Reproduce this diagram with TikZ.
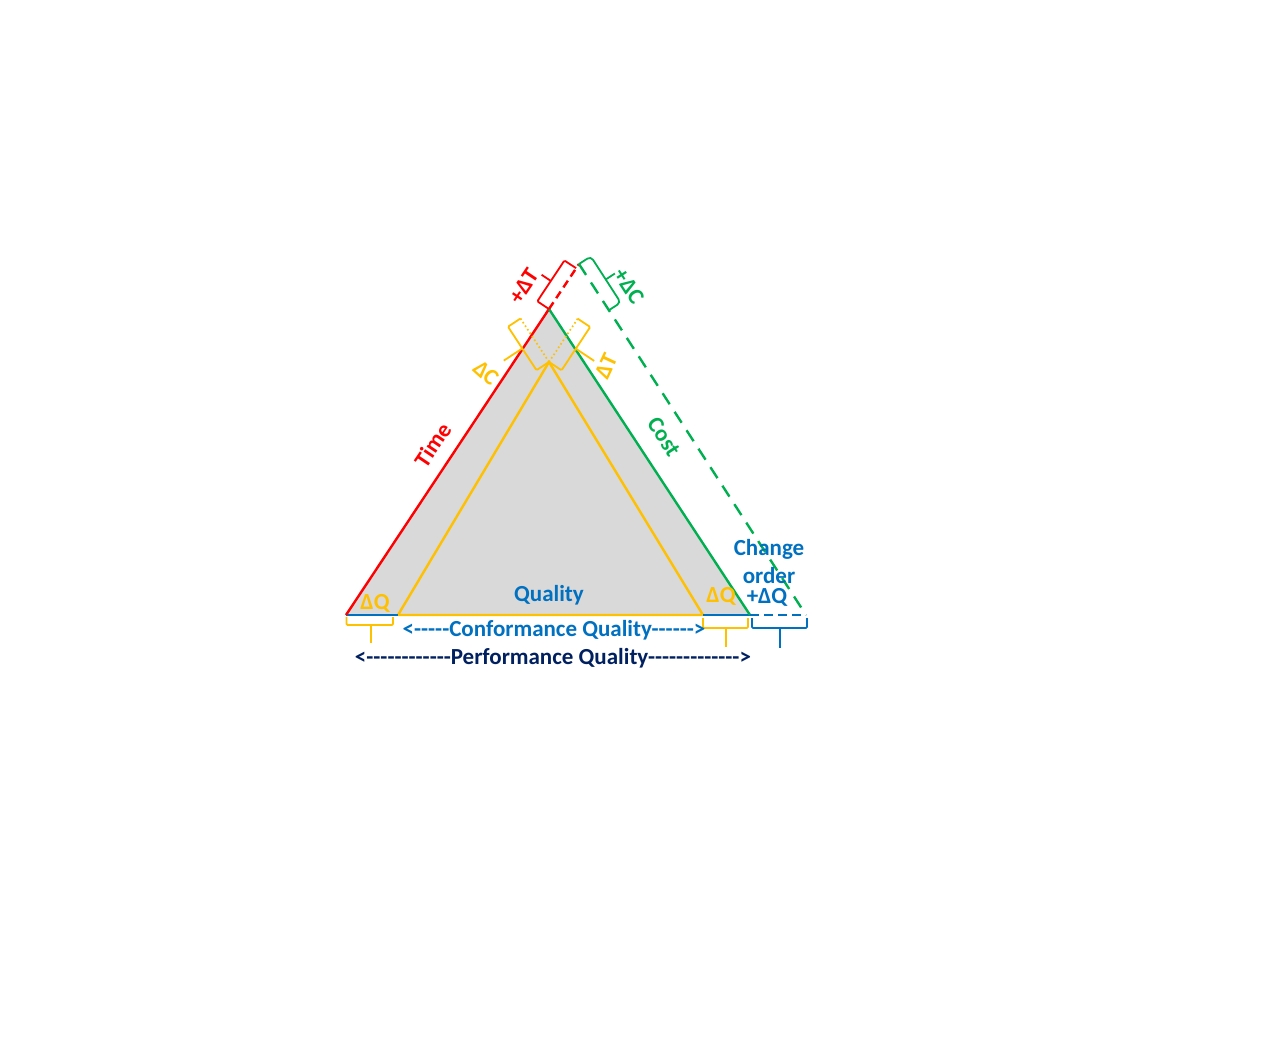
\documentclass[tikz,border=0pt]{standalone}
\usepackage{fontspec}
\setmainfont{Carlito}
\definecolor{cred}{HTML}{FF0000}
\definecolor{cgreen}{HTML}{00B050}
\definecolor{cyel}{HTML}{FFC000}
\definecolor{cblue}{HTML}{0070C0}
\definecolor{cnavy}{HTML}{002060}
\definecolor{cgray}{HTML}{D9D9D9}
\def\h{-\kern0pt}
\tikzset{
  lbl/.style={font=\fontsize{23}{27}\selectfont\bfseries, inner sep=0pt},
  side/.style={line width=2.4pt},
  brk/.style={line width=1.8pt, rounded corners=1.2pt},
  rdash/.style={line width=2.4pt, dash pattern=on 8pt off 5pt},
  gdash/.style={line width=2.4pt, dash pattern=on 13pt off 9pt},
  bdash/.style={line width=2.4pt, dash pattern=on 9pt off 5pt},
  ydot/.style={line width=1.7pt, dash pattern=on 1.6pt off 2.6pt},
}
\begin{document}
\begin{tikzpicture}[x=1pt,y=-1pt]
\useasboundingbox (0,0) rectangle (1263,1044);
% main points
\coordinate (L) at (346,615);
\coordinate (A) at (549,309);
\coordinate (R) at (750,615);
\coordinate (IL) at (398,615);
\coordinate (I) at (549,362);
\coordinate (IR) at (703,615);
\coordinate (T) at (579,264);
\coordinate (G) at (806,615);
% fill
\fill[cgray] (L) -- (A) -- (R) -- cycle;
% inner triangle
\draw[side, cyel, line join=round] (IL) -- (I) -- (IR) -- cycle;
% bottom blue segments
\draw[side, cblue] (L) -- (IL);
\draw[side, cblue] (IR) -- (R);
% sides
\draw[side, cred] (L) -- (A);
\draw[side, cgreen] (A) -- (R);
% extensions
\draw[rdash, cred] (A) -- (T);
\draw[gdash, cgreen] (T) -- (G);
\draw[bdash, cblue] (R) -- (G);
% red bracket +dT
\coordinate (rb0) at (537.3,301.3);
\coordinate (rb1) at (564.4,260.5);
\coordinate (rt1) at (576.1,268.2);
\coordinate (rbm) at (550.8,280.9);
\coordinate (rbp) at (541.6,274.8);
\draw[brk, cred] (A) -- (rb0) -- (rb1) -- (rt1);
\draw[brk, cred] (rbm) -- (rbp);
% green bracket +dC
\coordinate (gb0) at (590.8,256.4);
\coordinate (gb1) at (620.7,302.6);
\coordinate (gt1) at (608.9,310.2);
\coordinate (gbm) at (605.7,279.5);
\coordinate (gbp) at (614.9,273.5);
\draw[brk, cgreen, rounded corners=4pt] (T) -- (gb0) -- (gb1) -- (gt1);
\draw[brk, cgreen] (gbm) -- (gbp);
% yellow right bracket dT
\coordinate (DR) at (577.7,318.7);
\coordinate (yr0) at (590.2,327.0);
\coordinate (yr1) at (561.5,370.3);
\coordinate (yrm) at (575.9,348.7);
\coordinate (yrp) at (594.2,360.9);
\draw[ydot, cyel] (I) -- (DR);
\draw[brk, cyel] (DR) -- (yr0) -- (yr1) -- (I);
\draw[brk, cyel] (yrm) -- (yrp);
% yellow left bracket dC
\coordinate (DL) at (520.5,318.5);
\coordinate (yl0) at (508.0,326.7);
\coordinate (yl1) at (536.5,370.2);
\coordinate (ylm) at (522.2,348.5);
\coordinate (ylp) at (503.8,360.6);
\draw[ydot, cyel] (I) -- (DL);
\draw[brk, cyel] (DL) -- (yl0) -- (yl1) -- (I);
\draw[brk, cyel] (ylm) -- (ylp);
% bottom braces
\coordinate (b1a) at (346.5,617);
\coordinate (b1b) at (346.5,625);
\coordinate (b1c) at (393,625);
\coordinate (b1d) at (393,617);
\coordinate (b1s) at (371,625);
\coordinate (b1e) at (371,643);
\draw[brk, cyel] (b1a) -- (b1b) -- (b1c) -- (b1d);
\draw[brk, cyel] (b1s) -- (b1e);
\coordinate (b2a) at (703,618);
\coordinate (b2b) at (703,628);
\coordinate (b2c) at (748,628);
\coordinate (b2d) at (748,618);
\coordinate (b2s) at (726,628);
\coordinate (b2e) at (726,647);
\draw[brk, cyel] (b2a) -- (b2b) -- (b2c) -- (b2d);
\draw[line width=1.8pt, cyel] (b2s) -- (b2e);
\coordinate (b3a) at (752,618);
\coordinate (b3b) at (752,628);
\coordinate (b3c) at (807,628);
\coordinate (b3d) at (807,618);
\coordinate (b3s) at (780,628);
\coordinate (b3e) at (780,648);
\draw[brk, cblue] (b3a) -- (b3b) -- (b3c) -- (b3d);
\draw[brk, cblue] (b3s) -- (b3e);
% labels
\node[lbl, cred, rotate=56] (tTime) at (433,445) {Time};
\node[lbl, cgreen, rotate=-57] (tCost) at (664,437) {Cost};
\node[lbl, cred, rotate=56] (tdT) at (524,286) {+ΔT};
\node[lbl, cgreen, rotate=-57] (tdC) at (629,286) {+ΔC};
\node[lbl, cyel, rotate=-42] (ydC) at (486,373) {ΔC};
\node[lbl, cyel, rotate=65] (ydT) at (606,366) {ΔT};
\node[lbl, cblue] (tQual) at (549,595) {Quality};
\node[lbl, cyel] (tdQ1) at (375,603) {ΔQ};
\node[lbl, cyel] (tdQ2) at (721,596) {ΔQ};
\node[lbl, cblue] (tCh) at (769,549) {Change};
\node[lbl, cblue] (tOr) at (769,576) {order};
\node[lbl, cblue] (tpQ) at (767,597) {+ΔQ};
\node[lbl, cblue] (tConf) at (554,630) {<\h\h\h\h\h Conformance Quality\h\h\h\h\h\h>};
\node[lbl, cnavy] (tPerf) at (553,658) {<\h\h\h\h\h\h\h\h\h\h\h\h Performance Quality\h\h\h\h\h\h\h\h\h\h\h\h\h>};
\end{tikzpicture}
\end{document}
